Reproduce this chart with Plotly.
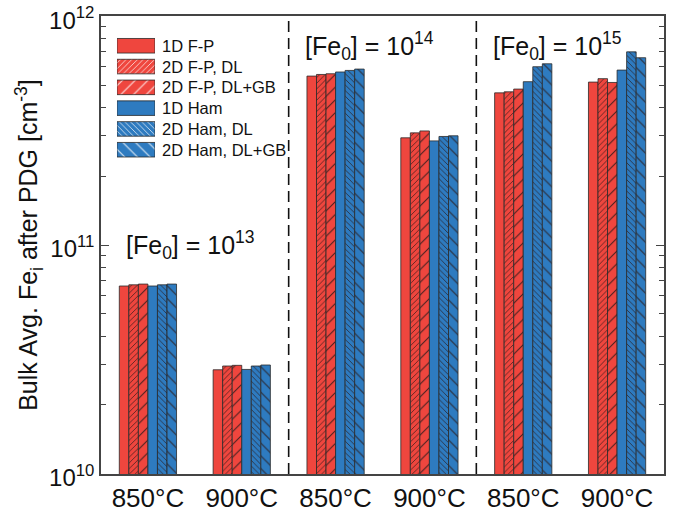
import plotly.graph_objects as go

categories = ["850°C", "900°C", "850°C ", "900°C ", "850°C  ", "900°C  "]
tick_labels = ["850°C", "900°C", "850°C", "900°C", "850°C", "900°C"]

series_names = ["1D F-P", "2D F-P, DL", "2D F-P, DL+GB", "1D Ham", "2D Ham, DL", "2D Ham, DL+GB"]
fp_1d = [6.62e10, 2.85e10, 5.47e11, 2.94e11, 4.62e11, 5.15e11]
fp_2d_dl = [6.70e10, 2.96e10, 5.56e11, 3.09e11, 4.67e11, 5.33e11]
fp_2d_dlgb = [6.75e10, 2.98e10, 5.60e11, 3.15e11, 4.80e11, 5.13e11]
ham_1d = [6.62e10, 2.86e10, 5.70e11, 2.85e11, 5.17e11, 5.81e11]
ham_2d_dl = [6.70e10, 2.96e10, 5.79e11, 2.98e11, 6.01e11, 6.98e11]
ham_2d_dlgb = [6.75e10, 2.99e10, 5.87e11, 3.00e11, 6.19e11, 6.58e11]
series_values = [fp_1d, fp_2d_dl, fp_2d_dlgb, ham_1d, ham_2d_dl, ham_2d_dlgb]

RED = "#EF463E"
BLUE = "#2E7BC0"
colors = [RED, RED, RED, BLUE, BLUE, BLUE]
shapes_p = ["", "/", "/", "", "\\", "\\"]
sizes_p = [6, 4, 9, 6, 4, 9]
solid_p = [0.2, 0.2, 0.12, 0.2, 0.2, 0.12]

y_ticks = [1e10, 1e11, 1e12]
y_tick_text = ["10<sup>10</sup>", "10<sup>11</sup>", "10<sup>12</sup>"]
y_minor = [m * 10 ** e for e in (10, 11) for m in range(2, 10)]

conc_labels = ["[Fe<sub>0</sub>] = 10<sup>13</sup>", "[Fe<sub>0</sub>] = 10<sup>14</sup>", "[Fe<sub>0</sub>] = 10<sup>15</sup>"]

FONT = "Arial, Liberation Sans, sans-serif"

fig = go.Figure()
for name, vals, c, sh, sz, so in zip(series_names, series_values, colors, shapes_p, sizes_p, solid_p):
    fig.add_trace(go.Bar(
        x=categories, y=vals, name=name,
        marker=dict(color=c, line=dict(color="#2a2a2a", width=0.8),
                    pattern=dict(shape=sh, size=sz, solidity=so, fgcolor="#2a1a1a", fgopacity=0.85)),
        showlegend=False,
    ))

# custom legend swatches (large boxes) drawn as bars on an auxiliary axis
fig.add_trace(go.Bar(
    x=[1] * len(series_names), y=series_names, orientation="h",
    xaxis="x2", yaxis="y2", width=0.7, showlegend=False, hoverinfo="skip",
    marker=dict(color=colors, line=dict(color="#2a2a2a", width=0.8),
                pattern=dict(shape=shapes_p, size=sizes_p, solidity=solid_p, fgcolor="#2a1a1a", fgopacity=0.85)),
))
for name in series_names:
    fig.add_annotation(x=0.104, xref="paper", y=name, yref="y2", text=name,
                       showarrow=False, xanchor="left", yanchor="middle",
                       font=dict(size=16.5, color="#111", family=FONT))

# region separators
for xb in [1.5, 3.5]:
    fig.add_shape(type="line", x0=xb, x1=xb, xref="x", y0=0, y1=1, yref="paper",
                  line=dict(color="#111", width=1.6, dash="11px,6px"))

# concentration labels
fig.add_annotation(x=0.45, xref="x", y=11.0, yref="y", text=conc_labels[0], showarrow=False,
                   xanchor="center", yanchor="middle", font=dict(size=25, color="#111", family=FONT))
fig.add_annotation(x=2.36, xref="x", y=0.935, yref="paper", text=conc_labels[1], showarrow=False,
                   xanchor="center", yanchor="middle", font=dict(size=25, color="#111", family=FONT))
fig.add_annotation(x=4.36, xref="x", y=0.935, yref="paper", text=conc_labels[2], showarrow=False,
                   xanchor="center", yanchor="middle", font=dict(size=25, color="#111", family=FONT))

fig.update_layout(
    width=684, height=514,
    margin=dict(l=101, r=20, t=16, b=40),
    plot_bgcolor="white", paper_bgcolor="white",
    barmode="group", bargap=0.39, bargroupgap=0,
    font=dict(family=FONT, color="#111"),
    xaxis=dict(
        tickvals=categories, ticktext=tick_labels, tickfont=dict(size=26),
        showline=True, linecolor="#444", linewidth=1.5, mirror=True,
        ticks="", showgrid=False, range=[-0.5, 5.5], automargin=False,
    ),
    yaxis=dict(
        type="log", range=[9.9995, 12.0005], automargin=False, ticklabeloverflow="allow",
        ticklabelshift=4,
        tickvals=y_ticks, ticktext=y_tick_text, tickfont=dict(size=24),
        showline=True, linecolor="#444", linewidth=1.5, mirror="ticks",
        ticks="inside", ticklen=8, tickcolor="#444", showgrid=False,
        minor=dict(tickvals=y_minor, ticks="inside", ticklen=5, tickcolor="#444", showgrid=False),
        title=dict(text="Bulk Avg. Fe<sub>i</sub> after PDG [cm<sup>-3</sup>]", font=dict(size=25), standoff=4),
    ),
    xaxis2=dict(domain=[0.0284, 0.0959], range=[0, 1], anchor="y2", visible=False, fixedrange=True),
    yaxis2=dict(domain=[0.684, 0.959], anchor="x2", visible=False, autorange="reversed",
                categoryorder="array", categoryarray=series_names, fixedrange=True),
)

fig.write_html("out.html")
